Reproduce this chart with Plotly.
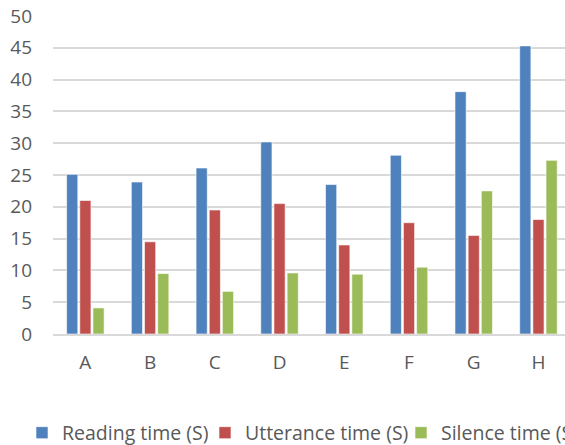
import plotly.graph_objects as go

categories = ["A", "B", "C", "D", "E", "F", "G", "H"]
reading = [25.1, 23.9, 26.1, 30.2, 23.5, 28.1, 38.1, 45.3]
utterance = [21.0, 14.5, 19.5, 20.5, 14.0, 17.5, 15.5, 18.0]
silence = [4.1, 9.5, 6.7, 9.6, 9.4, 10.5, 22.5, 27.3]
series_names = ["Reading time (S)", "Utterance time (S)", "Silence time (S)"]
colors = ["#4F81BD", "#C0504D", "#9BBB59"]

font_family = "'Open Sans', sans-serif"
gray = "#595959"

W, H = 565, 445
L, R, T, B = 53, 0, 16, 111

legend_ids = ["legend", "legend2", "legend3"]
# left pixel positions of each legend box (page coords)
legend_px = [22, 205, 401]

fig = go.Figure()
for name, vals, c, lid in zip(series_names, [reading, utterance, silence], colors, legend_ids):
    fig.add_trace(go.Bar(
        x=categories, y=vals, name=name, legend=lid,
        marker=dict(color=c, line=dict(color="rgba(255,255,255,0.6)", width=1)),
    ))

legend_common = dict(
    orientation="h", xanchor="left", xref="container", yref="container",
    y=(H - 433) / H, yanchor="middle",
    font=dict(family=font_family, size=19.5, color=gray),
    itemclick=False, itemdoubleclick=False, bgcolor="rgba(0,0,0,0)",
)

fig.update_layout(
    width=W, height=H,
    margin=dict(l=L, r=R, t=T, b=B, pad=0, autoexpand=False),
    paper_bgcolor="white", plot_bgcolor="white",
    barmode="group", bargap=0.39, bargroupgap=0.15,
    font=dict(family=font_family, color=gray, size=19),
    showlegend=True,
    legend=dict(x=legend_px[0] / W, **legend_common),
    legend2=dict(x=legend_px[1] / W, **legend_common),
    legend3=dict(x=legend_px[2] / W, **legend_common),
    xaxis=dict(
        type="category", range=[-0.5, 7.41],
        showgrid=False, showline=True, linecolor="#D9D9D9", linewidth=2,
        ticks="", ticklabelstandoff=10,
        tickfont=dict(family=font_family, size=19, color=gray),
        fixedrange=True,
    ),
    yaxis=dict(
        range=[0, 50], dtick=5, tick0=0,
        showgrid=True, gridcolor="#D9D9D9", gridwidth=1.5,
        zeroline=False, showline=False, ticks="",
        ticklabelstandoff=20,
        tickfont=dict(family=font_family, size=19, color=gray),
        fixedrange=True,
    ),
)

fig.write_html("out.html", config={"displayModeBar": False},
               post_script="document.body.style.margin='0';document.body.style.overflow='hidden';")
